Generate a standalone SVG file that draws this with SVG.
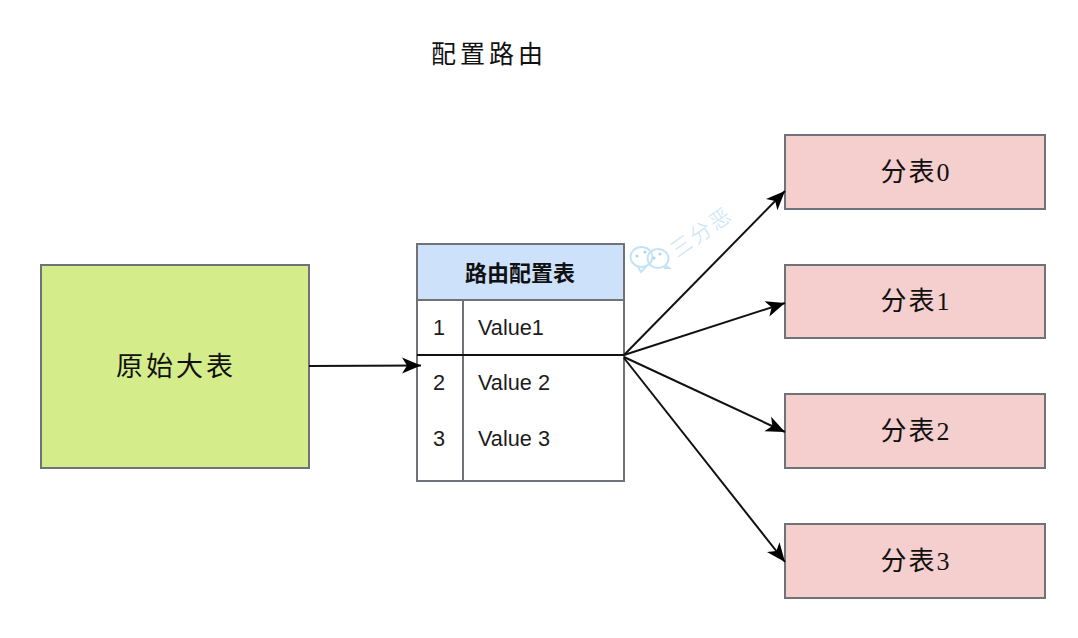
<svg xmlns="http://www.w3.org/2000/svg" width="1078" height="638" viewBox="0 0 1078 638">
<style>
.box{stroke:#6f7378;stroke-width:2}
.cjk{font-family:"Liberation Serif","Noto Sans CJK SC",serif;fill:#111;text-anchor:middle}
.sh{font-size:26px;letter-spacing:2px}
.cell{font-family:"Liberation Sans","Noto Sans CJK SC",sans-serif;font-size:21.700px;fill:#1c1c1c}
.con{fill:none;stroke:#111;stroke-width:2}
.wm{fill:none;stroke:#c4e3f6;stroke-width:2}
</style>
<defs>
<marker id="arrow" markerUnits="userSpaceOnUse" markerWidth="22" markerHeight="20" refX="20" refY="10" orient="auto">
<path d="M1 2 L20 10 L1 18 L6 10Z" fill="#000"/>
</marker>
</defs>
<rect width="1078" height="638" fill="#fff"/>
<text id="title" class="cjk" x="489" y="63" font-size="25" letter-spacing="4">配置路由</text>
<g id="source">
<rect class="box" x="41" y="265" width="268" height="203" fill="#d5ec8b"/>
<text class="cjk" x="176" y="376" font-size="27" letter-spacing="3">原始大表</text>
</g>
<g id="routing-table">
<rect class="box" x="417" y="244" width="207" height="237" fill="#fff"/>
<rect class="box" x="417" y="244" width="207" height="56" fill="#cde1fb"/>
<path class="box" d="M463 300V481" fill="none"/>
<text x="520" y="281" font-family="'Noto Sans CJK SC',sans-serif" font-size="22" font-weight="700" fill="#111" text-anchor="middle">路由配置表</text>
<text class="cell" x="439" y="335" text-anchor="middle">1</text>
<text class="cell" x="478" y="335">Value1</text>
<text class="cell" x="439" y="390" text-anchor="middle">2</text>
<text class="cell" x="478" y="390">Value 2</text>
<text class="cell" x="439" y="446" text-anchor="middle">3</text>
<text class="cell" x="478" y="446">Value 3</text>
</g>
<g id="shard-0">
<rect class="box" x="785" y="135" width="260" height="74" fill="#f5cece"/>
<text class="cjk sh" x="916" y="181">分表0</text>
</g>
<g id="shard-1">
<rect class="box" x="785" y="265" width="260" height="73" fill="#f5cece"/>
<text class="cjk sh" x="916" y="310">分表1</text>
</g>
<g id="shard-2">
<rect class="box" x="785" y="394" width="260" height="74" fill="#f5cece"/>
<text class="cjk sh" x="916" y="440">分表2</text>
</g>
<g id="shard-3">
<rect class="box" x="785" y="524" width="260" height="74" fill="#f5cece"/>
<text class="cjk sh" x="916" y="570">分表3</text>
</g>
<g id="connectors">
<path class="con" d="M417 355H624"/>
<path class="con" d="M309 366L421 365.500" marker-end="url(#arrow)"/>
<path class="con" d="M624 355L785 191" marker-end="url(#arrow)"/>
<path class="con" d="M624 355L785 303" marker-end="url(#arrow)"/>
<path class="con" d="M624 357L785 432" marker-end="url(#arrow)"/>
<path class="con" d="M624 358L785 562" marker-end="url(#arrow)"/>
</g>
<g id="watermark">
<ellipse class="wm" cx="641.500" cy="257" rx="11" ry="10" fill="#fff"/>
<path class="wm" d="M638 267L641 272L646 267"/>
<ellipse class="wm" cx="658" cy="258.500" rx="10.500" ry="9.500" fill="#fff"/>
<path class="wm" d="M665 265L669 268L664 268"/>
<g fill="#a9d6f2"><circle cx="637" cy="256" r="1.500"/><circle cx="645" cy="252" r="1.500"/><circle cx="654" cy="258" r="1.500"/><circle cx="660" cy="254" r="1.500"/></g>
<text transform="translate(706 238) rotate(-35)" font-family="'Noto Sans CJK SC',sans-serif" font-size="21" font-weight="300" letter-spacing="2.500" fill="#c4e3f6" text-anchor="middle">三分恶</text>
</g>
</svg>
